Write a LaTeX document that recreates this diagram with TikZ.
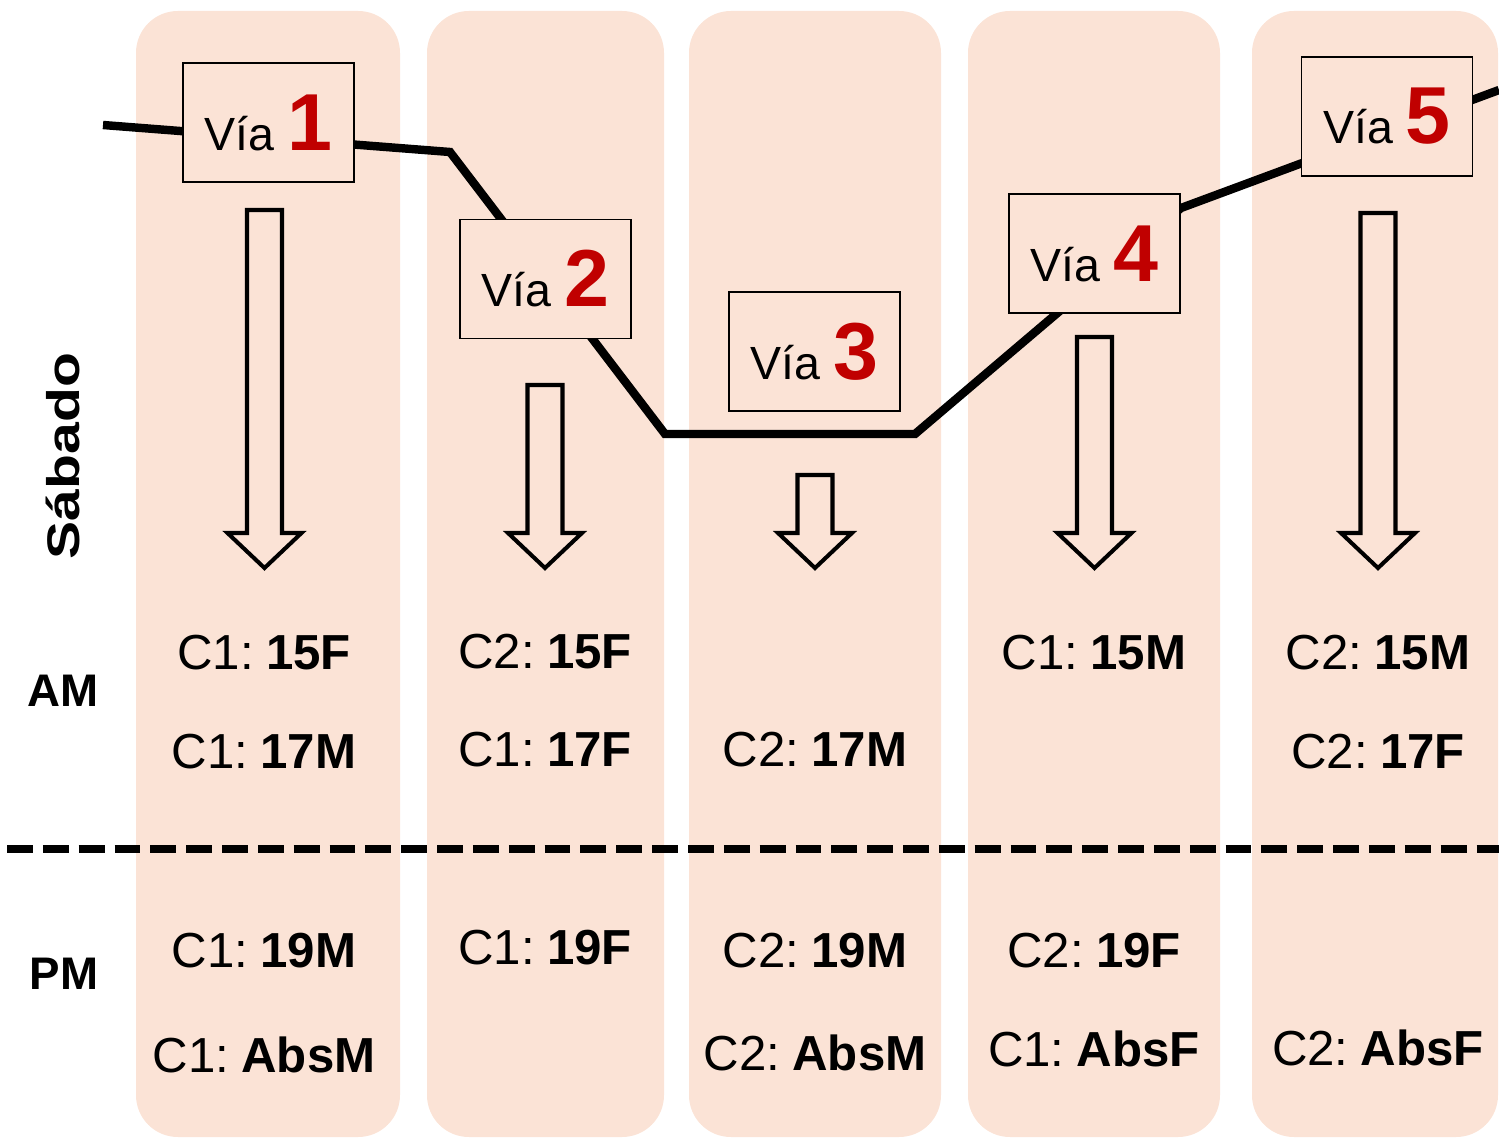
\documentclass[tikz,border=0pt]{standalone}
\usepackage{fontspec}
\setmainfont{Liberation Sans}
\definecolor{colfill}{HTML}{FBE3D6}
\definecolor{numred}{HTML}{C00000}
\newcommand\dtxt[2]{#1:\hspace{0.25em}\textbf{#2}}
\begin{document}
\begin{tikzpicture}[x=0.02cm,y=-0.02cm,
  column/.style={fill=colfill, rounded corners=23.8pt},
  trackline/.style={line width=4.8pt, line join=miter},
  viabox/.style={draw=black, line width=1.1pt, fill=colfill, minimum width=3.42cm, minimum height=2.38cm, inner sep=0pt, font=\fontsize{26.5}{30}\selectfont},
  arrowline/.style={draw=black, line width=2.3pt, line join=miter},
  datatext/.style={anchor=base, inner sep=0pt, font=\fontsize{28}{32}\selectfont},
  sidelabel/.style={anchor=base, inner sep=0pt, font=\fontsize{26}{30}\selectfont\bfseries},
  dashline/.style={line width=4.5pt, dash pattern=on 14.7pt off 5.7pt}
]
\useasboundingbox (0,0) rectangle (1499,1138);
% columns
\path[column] (136,11) rectangle (400,1137);
\path[column] (427,11) rectangle (664,1137);
\path[column] (689,11) rectangle (941,1137);
\path[column] (968,11) rectangle (1220,1137);
\path[column] (1252,11) rectangle (1498,1137);
% track line
\coordinate (p0) at (103,125);
\coordinate (p1) at (450,152);
\coordinate (p2) at (665,434);
\coordinate (p3) at (915,434);
\coordinate (p4) at (1181,208);
\coordinate (p5) at (1499,90);
\draw[trackline] (p0) -- (p1) -- (p2) -- (p3) -- (p4) -- (p5);
% boxes
\newcommand\vianum[1]{{\fontsize{46}{50}\selectfont\bfseries\color{numred}#1}}
\node[viabox] (v1) at (268.5,122.5) {Vía \vianum{1}};
\node[viabox] (v2) at (545.5,279) {Vía \vianum{2}};
\node[viabox] (v3) at (814.5,351.5) {Vía \vianum{3}};
\node[viabox] (v4) at (1094.5,253.5) {Vía \vianum{4}};
\node[viabox] (v5) at (1387,116.5) {Vía \vianum{5}};
% block arrows
\foreach \x/\t in {264.5/210, 545/385, 815/475, 1094.5/337, 1378/213}{
  \draw[arrowline] ({\x-17.5},\t) -- ({\x+17.5},\t) -- ({\x+17.5},533) -- ({\x+37},533)
    -- (\x,568) -- ({\x-37},533) -- ({\x-17.5},533) -- cycle;
}
% side labels
\node[sidelabel, rotate=90] (sab) at (79,456) {\scalebox{1.25}[1]{Sábado}};
\node[sidelabel] (am) at (63,706) {AM};
\node[sidelabel] (pm) at (64,989) {PM};
% column 1
\node[datatext] (a1) at (264,669) {\dtxt{C1}{15F}};
\node[datatext] (b1) at (264,768) {\dtxt{C1}{17M}};
\node[datatext] (c1) at (264,967) {\dtxt{C1}{19M}};
\node[datatext] (d1) at (264,1072) {\dtxt{C1}{AbsM}};
% column 2
\node[datatext] (a2) at (545,668) {\dtxt{C2}{15F}};
\node[datatext] (b2) at (545,766) {\dtxt{C1}{17F}};
\node[datatext] (c2) at (545,964) {\dtxt{C1}{19F}};
% column 3
\node[datatext] (b3) at (815,766) {\dtxt{C2}{17M}};
\node[datatext] (c3) at (815,967) {\dtxt{C2}{19M}};
\node[datatext] (d3) at (815,1070) {\dtxt{C2}{AbsM}};
% column 4
\node[datatext] (a4) at (1094,669) {\dtxt{C1}{15M}};
\node[datatext] (c4) at (1094,967) {\dtxt{C2}{19F}};
\node[datatext] (d4) at (1094,1066) {\dtxt{C1}{AbsF}};
% column 5
\node[datatext] (a5) at (1378,669) {\dtxt{C2}{15M}};
\node[datatext] (b5) at (1378,768) {\dtxt{C2}{17F}};
\node[datatext] (d5) at (1378,1065) {\dtxt{C2}{AbsF}};
% dashed divider
\coordinate (dl) at (7,849);
\coordinate (dr) at (1499,849);
\draw[dashline] (dl) -- (dr);
\end{tikzpicture}
\end{document}
